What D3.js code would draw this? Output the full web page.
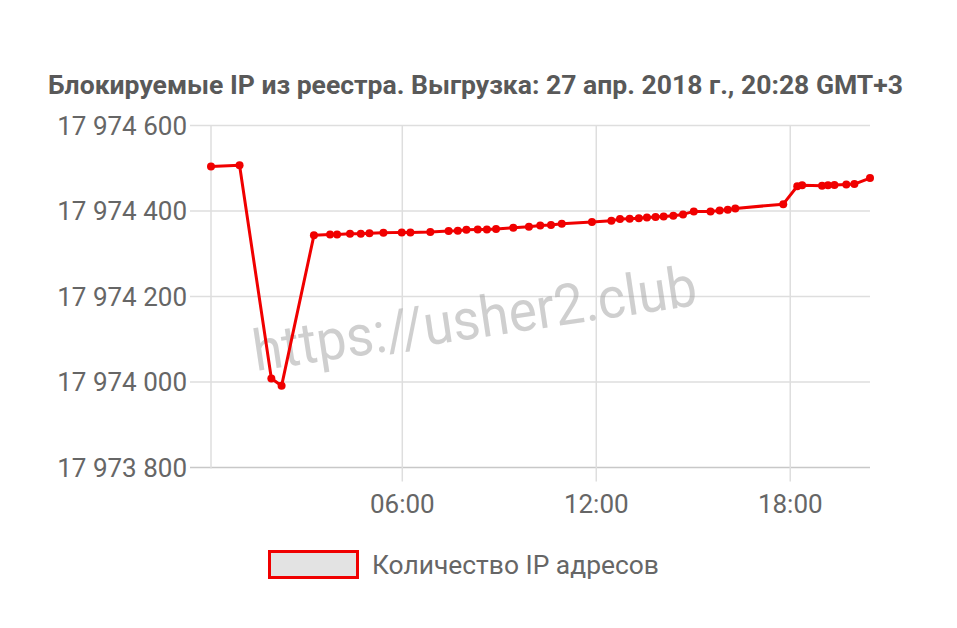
<!DOCTYPE html>
<html>
<head>
<meta charset="utf-8">
<script src="https://cdn.jsdelivr.net/npm/d3@7"></script>
<style>
  html, body { margin: 0; padding: 0; background: #fff; }
  svg { display: block; font-family: Roboto, "Noto Sans", sans-serif; }
</style>
</head>
<body>
<svg id="chart" width="957" height="628"></svg>
<script>
const titleText = "Блокируемые IP из реестра. Выгрузка: 27 апр. 2018 г., 20:28 GMT+3";
const seriesName = "Количество IP адресов";
const watermark = "https://usher2.club";

const times = ["00:05","00:58","01:57","02:16","03:16","03:46","03:59","04:23","04:43","04:59",
  "05:25","05:59","06:15","06:52","07:26","07:43","07:59","08:20","08:37","08:54",
  "09:26","09:55","10:16","10:36","10:56","11:52","12:28","12:44","13:02","13:19",
  "13:34","13:50","14:05","14:23","14:41","15:01","15:32","15:49","16:04","16:18",
  "17:47","18:13","18:22","18:59","19:10","19:22","19:44","19:59","20:28"];
const counts = [17974504,17974507,17974008,17973991,17974343,17974345,17974345,17974347,17974347,17974348,
  17974349,17974350,17974350,17974351,17974353,17974354,17974356,17974357,17974357,17974358,
  17974361,17974363,17974366,17974367,17974370,17974374,17974377,17974381,17974382,17974383,
  17974385,17974386,17974387,17974389,17974392,17974399,17974399,17974401,17974403,17974406,
  17974416,17974458,17974460,17974459,17974460,17974461,17974462,17974463,17974477];
const yTicks = [17973800, 17974000, 17974200, 17974400, 17974600];
const xTickLabels = ["06:00", "12:00", "18:00"];

const parse = d3.timeParse("%Y-%m-%d %H:%M");
const day = "2018-04-27 ";
const data = times.map((t, i) => ({ t: parse(day + t), v: counts[i] }));

const svg = d3.select("#chart");
const L = 211, R = 870, T = 125.5, B = 467.5;

const x = d3.scaleTime().domain(d3.extent(data, d => d.t)).range([L, R]);
const y = d3.scaleLinear().domain([17973800, 17974600]).range([B, T]);

const grid = "#dedede";
svg.append("g").selectAll("line").data(yTicks).join("line")
  .attr("x1", L - 21).attr("x2", R)
  .attr("y1", d => y(d)).attr("y2", d => y(d))
  .attr("stroke", (d, i) => i === 0 ? "#c8c8c8" : grid).attr("stroke-width", 1.5);

const xTickDates = xTickLabels.map(s => parse(day + s));
svg.append("g").selectAll("line").data(xTickDates).join("line")
  .attr("x1", d => x(d)).attr("x2", d => x(d))
  .attr("y1", T).attr("y2", B + 14)
  .attr("stroke", grid).attr("stroke-width", 1.5);
svg.append("line").attr("x1", L).attr("x2", L).attr("y1", T).attr("y2", B + 1)
  .attr("stroke", grid).attr("stroke-width", 1.5);

const fmt = v => d3.format(",")(v).replace(/,/g, " ");
svg.append("g").selectAll("text").data(yTicks).join("text")
  .attr("x", 187).attr("y", d => y(d))
  .attr("dy", "0.35em").attr("text-anchor", "end")
  .attr("fill", "#666").attr("font-size", 26)
  .text(fmt);

svg.append("g").selectAll("text").data(xTickDates).join("text")
  .attr("x", d => x(d)).attr("y", 513)
  .attr("text-anchor", "middle")
  .attr("fill", "#666").attr("font-size", 26)
  .text(d => d3.timeFormat("%H:%M")(d));

// watermark
svg.append("text")
  .attr("transform", "translate(256,371) rotate(-8.5)")
  .attr("fill", "#a0a0a0").attr("fill-opacity", 0.5)
  .attr("font-size", 57).attr("font-weight", 400)
  .attr("textLength", 448).attr("lengthAdjust", "spacingAndGlyphs")
  .text(watermark);

const red = "#f00000";
svg.append("path").datum(data)
  .attr("d", d3.line().x(d => x(d.t)).y(d => y(d.v)))
  .attr("fill", "none").attr("stroke", red).attr("stroke-width", 3)
  .attr("stroke-linejoin", "round");
svg.append("g").selectAll("circle").data(data).join("circle")
  .attr("cx", d => x(d.t)).attr("cy", d => y(d.v)).attr("r", 4)
  .attr("fill", red);

svg.append("text")
  .attr("x", 48).attr("y", 94)
  .attr("fill", "#595959").attr("font-size", 25).attr("font-weight", 700)
  .attr("textLength", 855).attr("lengthAdjust", "spacingAndGlyphs")
  .text(titleText);

svg.append("rect").attr("x", 269.5).attr("y", 551.5).attr("width", 88).attr("height", 26)
  .attr("fill", "#e3e3e3").attr("stroke", red).attr("stroke-width", 3);
svg.append("text").attr("x", 372).attr("y", 574)
  .attr("fill", "#666").attr("font-size", 26.4)
  .text(seriesName);
</script>
</body>
</html>
